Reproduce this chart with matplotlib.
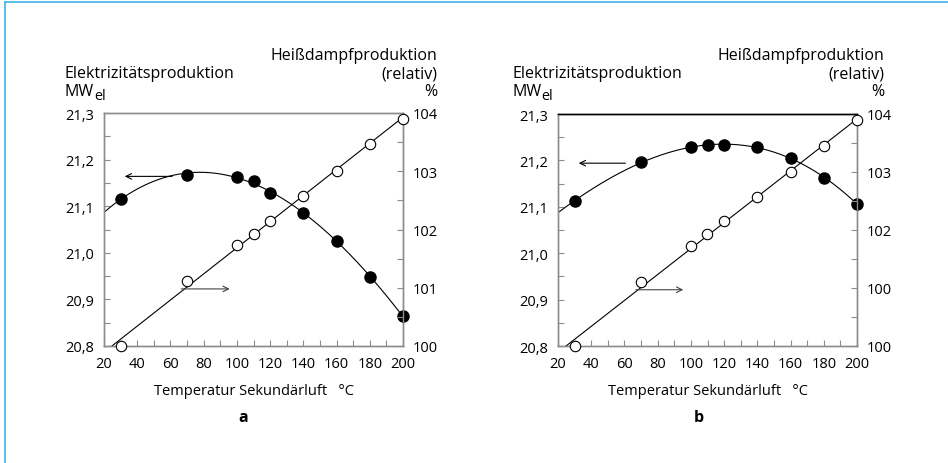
import numpy as np
import matplotlib
matplotlib.use("Agg")
import matplotlib.pyplot as plt
from matplotlib.lines import Line2D

plt.rcParams['font.family'] = ['Open Sans', 'DejaVu Sans']

# ---- data ----
temps = [30, 70, 100, 110, 120, 140, 160, 180, 200]
elec_a = [21.116, 21.166, 21.163, 21.155, 21.129, 21.085, 21.025, 20.947, 20.865]
steam_a = [100.0, 101.12, 101.73, 101.93, 102.15, 102.58, 103.01, 103.46, 103.90]
elec_b = [21.113, 21.196, 21.228, 21.234, 21.233, 21.228, 21.206, 21.163, 21.106]
steam_b = [100.0, 101.10, 101.73, 101.93, 102.15, 102.57, 103.00, 103.44, 103.89]

x_ticks = [20, 40, 60, 80, 100, 120, 140, 160, 180, 200]
x_labels = ["20", "40", "60", "80", "100", "120", "140", "160", "180", "200"]
left_ticks = [20.8, 20.9, 21.0, 21.1, 21.2, 21.3]
left_labels = ["20,8", "20,9", "21,0", "21,1", "21,2", "21,3"]
right_ticks = [100, 101, 102, 103, 104]
right_labels_a = ["100", "101", "102", "103", "104"]
right_labels_b = ["100", "100", "102", "103", "104"]

xlabel = "Temperatur Sekundärluft   °C"
ylabel_left = ["Elektrizitätsproduktion", "MW", "el"]
ylabel_right = ["Heißdampfproduktion", "(relativ)", "%"]
panel_names = ["a", "b"]

W, H = 948, 464
fig = plt.figure(figsize=(W / 100, H / 100), dpi=100)
renderer = fig.canvas.get_renderer()

GRAY = '#8c8c8c'
FS = 11.5
TFS = 10.5

def px(x, y):
    return x / W, 1 - y / H

panels = [
    dict(left=104, top=114, elec=elec_a, steam=steam_a, rl=right_labels_a, name=panel_names[0],
         arr_l=((61, 21.164), (32.5, 21.164)), arr_r=((66.5, 100.98), (95.7, 100.98)),
         topcol=GRAY, name_x=243, txt_left=65, txt_right=437),
    dict(left=558, top=115, elec=elec_b, steam=steam_b, rl=right_labels_b, name=panel_names[1],
         arr_l=((60.6, 21.194), (32.5, 21.194)), arr_r=((66.9, 100.97), (95.4, 100.97)),
         topcol='black', name_x=699, txt_left=512, txt_right=884),
]

for p in panels:
    l = p['left'] / W
    b = 1 - 347 / H
    w = 299 / W
    h = (347 - p['top']) / H
    ax = fig.add_axes([l, b, w, h])
    ax2 = ax.twinx()

    ax.set_xlim(20, 200)
    ax.set_ylim(20.8, 21.3)
    ax2.set_ylim(100, 104)

    # fitted curves
    xs = np.linspace(20, 200, 300)
    c = np.polyfit(temps, p['elec'], 3)
    ax.plot(xs, np.polyval(c, xs), color='black', lw=0.8, zorder=2)
    ax.plot(temps, p['elec'], 'o', color='black', ms=8, zorder=3, clip_on=False)

    c2 = np.polyfit(temps, p['steam'], 1)
    ax2.plot(xs, np.polyval(c2, xs), color='black', lw=0.8, zorder=2)
    ax2.plot(temps, p['steam'], 'o', mfc='white', mec='black', mew=0.8, ms=7.5,
             zorder=3, clip_on=False)

    # arrows
    ax.annotate('', xy=p['arr_l'][1], xytext=p['arr_l'][0],
                arrowprops=dict(arrowstyle='->', color='black', lw=0.8,
                                shrinkA=0, shrinkB=0, mutation_scale=10))
    ax2.annotate('', xy=p['arr_r'][1], xytext=p['arr_r'][0],
                 arrowprops=dict(arrowstyle='->', color='#444444', lw=0.8,
                                 shrinkA=0, shrinkB=0, mutation_scale=10))

    # spines
    for a in (ax, ax2):
        for s in a.spines.values():
            s.set_color(GRAY)
            s.set_linewidth(1.0)
        a.spines['top'].set_color(p['topcol'])

    ax.set_xticks(np.arange(20, 201, 10), minor=True)
    ax.set_xticks(x_ticks)
    ax.set_xticklabels(x_labels)
    ax.set_yticks(np.arange(20.8, 21.31, 0.05), minor=True)
    ax.set_yticks(left_ticks)
    ax.set_yticklabels(left_labels)
    ax2.set_yticks(np.arange(100, 104.01, 0.5), minor=True)
    ax2.set_yticks(right_ticks)
    ax2.set_yticklabels(p['rl'])

    for a in (ax, ax2):
        a.tick_params(which='both', direction='in', color=GRAY, length=4, width=0.8,
                      labelsize=TFS, labelcolor='black')
    ax.tick_params(axis='x', which='both', pad=7.5)
    ax.tick_params(axis='y', which='both', pad=7, right=False)
    ax2.tick_params(axis='y', which='both', pad=7)

    ax.set_xlabel(xlabel, fontsize=TFS, labelpad=8)

    # headings
    fig.text(*px(p['txt_left'], 78.5), ylabel_left[0], fontsize=FS, ha='left', va='baseline')
    t = fig.text(*px(p['txt_left'], 96.5), ylabel_left[1], fontsize=FS, ha='left', va='baseline')
    ext = t.get_window_extent(renderer)
    fig.text((ext.x1 + 0.5) / W, 1 - 99.5 / H, ylabel_left[2], fontsize=FS * 0.9,
             ha='left', va='baseline')
    fig.text(*px(p['txt_right'], 60), ylabel_right[0], fontsize=FS, ha='right', va='baseline')
    fig.text(*px(p['txt_right'], 78.5), ylabel_right[1], fontsize=FS, ha='right', va='baseline')
    fig.text(*px(p['txt_right'], 96.5), ylabel_right[2], fontsize=FS, ha='right', va='baseline')

    fig.text(*px(p['name_x'], 418), p['name'], fontsize=FS, fontweight='bold',
             ha='center', va='center')

# frame (left and top edges)
BLUE = '#3cb4e6'
fig.add_artist(Line2D([5 / W, 5 / W], [0, 1 - 3 / H], color=BLUE, lw=1.2))
fig.add_artist(Line2D([5 / W, 1], [1 - 3 / H, 1 - 3 / H], color=BLUE, lw=1.2))

fig.savefig('out.png', dpi=100)
